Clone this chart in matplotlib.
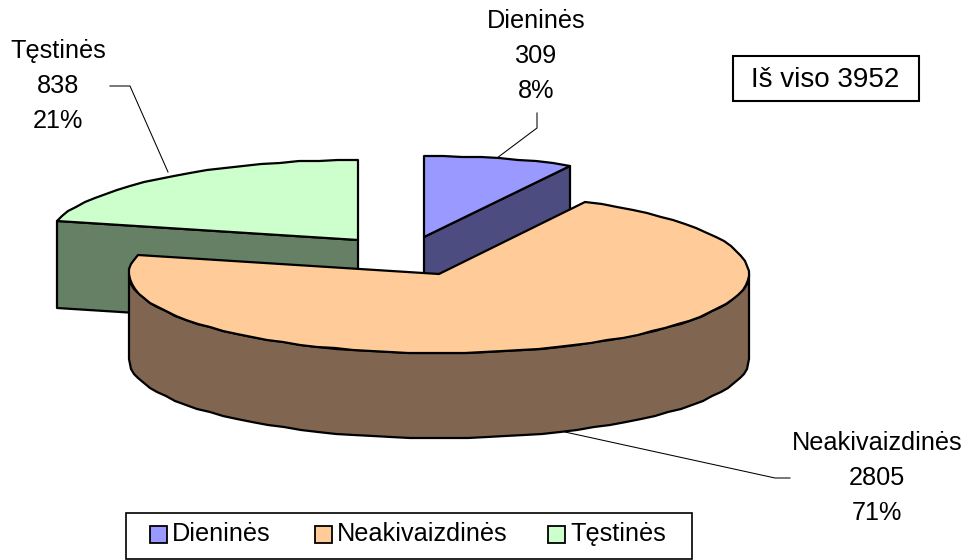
import numpy as np
import matplotlib
matplotlib.use("Agg")
import matplotlib.pyplot as plt
from matplotlib.patches import Polygon, Rectangle

categories = ["Dieninės", "Neakivaizdinės", "Tęstinės"]
values = [309, 2805, 838]
percents = [8, 71, 21]
total_label = "Iš viso 3952"

top_colors = ["#9999FF", "#FFCC99", "#CCFFCC"]
side_colors = ["#4C4C80", "#806650", "#668066"]

plt.rcParams["font.family"] = ["Liberation Sans", "DejaVu Sans"]
FONT = 18.2
LW = 1.6

# apex of every exploded slice in pixels, size of the pie
apex = [(424, 237), (439, 274), (358, 240)]
RX = 310
ry_back = [81, 82, 80]
RY_FRONT = 79
depth = [85, 85, 87]


def rim(i, start, stop):
    # angles run clockwise from 12 o'clock like in the spreadsheet pie
    cx, cy = apex[i]
    n = max(int((stop - start) / 3.5), 2)
    theta = np.radians(np.linspace(start, stop, n + 1))
    ry = np.where(np.cos(theta) > 0, ry_back[i], RY_FRONT)
    x = cx + RX * np.sin(theta)
    y = cy - ry * np.cos(theta)
    return np.column_stack([np.round(x), np.round(y)])


def main():
    fig = plt.figure(figsize=(9.67, 5.6), dpi=100)
    ax = fig.add_axes([0, 0, 1, 1])
    ax.set_xlim(0, 967)
    ax.set_ylim(560, 0)
    ax.axis("off")

    edges = np.cumsum([0] + values) / sum(values) * 360

    # order: slices at the back first, the big one on top
    for i in [2, 0, 1]:
        cx, cy = apex[i]
        d = depth[i]
        pts = rim(i, edges[i], edges[i + 1])
        if i == 1:
            # round side of the big slice, only the front half shows
            front = rim(i, 90, 270)
            wall = np.vstack([front, front[::-1] + [0, d]])
        elif i == 0:
            wall = np.array([[cx, cy], pts[-1], pts[-1] + [0, d], [cx, cy + d]])
        else:
            wall = np.array([[cx, cy], pts[0], pts[0] + [0, d], [cx, cy + d]])
        ax.add_patch(Polygon(wall, closed=True, fc=side_colors[i], ec="black", lw=LW, joinstyle="round"))
        ax.add_patch(Polygon(np.vstack([[cx, cy], pts]), closed=True, fc=top_colors[i], ec="black", lw=LW, joinstyle="round"))

    # leader lines
    ax.plot([537, 537, 497], [113, 128, 158], color="black", lw=0.75)
    ax.plot([110, 130, 168], [86, 86, 172], color="black", lw=0.75)
    ax.plot([565, 775, 790], [432, 478, 478], color="black", lw=0.75)

    # data labels
    label_pos = [(536, 56), (877, 478), (58, 86)]
    for i in range(3):
        txt = "%s\n%d\n%d%%" % (categories[i], values[i], percents[i])
        ax.text(label_pos[i][0], label_pos[i][1], txt, ha="center", va="center",
                fontsize=FONT, linespacing=1.58, color="black")

    # total box
    ax.add_patch(Rectangle((733, 56), 186, 45, fc="white", ec="black", lw=1.5))
    ax.text(825, 80, total_label, ha="center", va="center", fontsize=20)

    # legend
    ax.add_patch(Rectangle((126, 513), 566, 46, fc="white", ec="black", lw=1.2, clip_on=False))
    key_x = [150, 315, 548]
    for i in range(3):
        ax.add_patch(Rectangle((key_x[i], 526), 17, 17, fc=top_colors[i], ec="black", lw=1.3))
        ax.text(key_x[i] + 22, 534, categories[i], ha="left", va="center", fontsize=FONT)

    fig.savefig("out.png", dpi=100)


main()
